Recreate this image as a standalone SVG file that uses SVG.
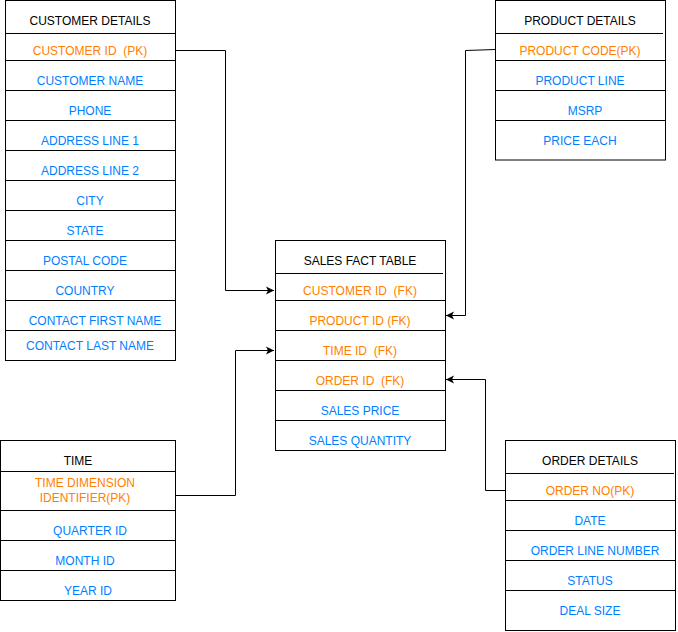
<svg xmlns="http://www.w3.org/2000/svg" width="678" height="632" viewBox="0 0 678 632">
<style>
.box{fill:#fff;stroke:#000;stroke-width:1}
.div{stroke:#000;stroke-width:1;fill:none}
text{font-family:"Liberation Sans",Arial,sans-serif;font-size:12px;text-anchor:middle}
.h{fill:#000}
.k{fill:#FF8000}
.f{fill:#007FFF}
.c{fill:none;stroke:#000;stroke-width:1}
</style>
<defs>
<marker id="arr" markerWidth="10" markerHeight="10" refX="9" refY="5" orient="auto" markerUnits="userSpaceOnUse">
<path d="M1,1 L9,5 L1,9 L3,5 Z" fill="#000"/>
</marker>
</defs>
<g id="connectors">
<path class="c" d="M175.5,50.5 H225.5 V290.5 H274" marker-end="url(#arr)"/>
<path class="c" d="M495.5,49.5 L465.5,50.5 V315.5 H446" marker-end="url(#arr)"/>
<path class="c" d="M175.5,495.5 H235.5 V350.5 H274" marker-end="url(#arr)"/>
<path class="c" d="M505.5,490.5 H485.5 V379.5 H446" marker-end="url(#arr)"/>
</g>
<g id="customer-details">
<rect class="box" x="5.5" y="0.5" width="170" height="360"/>
<path class="div" d="M5.5,33.5 H175.5 M5.5,60.5 H175.5 M5.5,90.5 H175.5 M5.5,120.5 H175.5 M5.5,150.5 H175.5 M5.5,180.5 H175.5 M5.5,210.5 H175.5 M5.5,240.5 H175.5 M5.5,270.5 H175.5 M5.5,300.5 H175.5 M5.5,330.5 H175.5"/>
<text class="h" x="90" y="24.5">CUSTOMER DETAILS</text>
<text class="k" x="90" y="54.5" xml:space="preserve">CUSTOMER ID  (PK)</text>
<text class="f" x="90" y="84.5">CUSTOMER NAME</text>
<text class="f" x="90" y="114.5">PHONE</text>
<text class="f" x="90" y="144.5">ADDRESS LINE 1</text>
<text class="f" x="90" y="174.5">ADDRESS LINE 2</text>
<text class="f" x="90" y="204.5">CITY</text>
<text class="f" x="85" y="234.5">STATE</text>
<text class="f" x="85" y="264.5">POSTAL CODE</text>
<text class="f" x="85" y="294.5">COUNTRY</text>
<text class="f" x="95" y="324.5">CONTACT FIRST NAME</text>
<text class="f" x="90" y="349.5">CONTACT LAST NAME</text>
</g>
<g id="product-details">
<rect class="box" x="495.5" y="0.5" width="170" height="159.5"/>
<path class="div" d="M495.5,33.5 H663 M495.5,60.5 H665.5 M495.5,90.5 H665.5 M495.5,120.5 H665.5"/>
<text class="h" x="580" y="24.5">PRODUCT DETAILS</text>
<text class="k" x="580" y="54.5">PRODUCT CODE(PK)</text>
<text class="f" x="580" y="84.5">PRODUCT LINE</text>
<text class="f" x="585" y="114.5">MSRP</text>
<text class="f" x="580" y="144.5">PRICE EACH</text>
</g>
<g id="sales-fact-table">
<rect class="box" x="275.5" y="240.5" width="170" height="210"/>
<path class="div" d="M275.5,273.5 H443 M275.5,300.5 H445.5 M275.5,330.5 H445.5 M275.5,360.5 H445.5 M275.5,390.5 H445.5 M275.5,420.5 H445.5"/>
<text class="h" x="360" y="264.5">SALES FACT TABLE</text>
<text class="k" x="360" y="294.5" xml:space="preserve">CUSTOMER ID  (FK)</text>
<text class="k" x="360" y="324.5">PRODUCT ID (FK)</text>
<text class="k" x="360" y="354.5" xml:space="preserve">TIME ID  (FK)</text>
<text class="k" x="360" y="384.5" xml:space="preserve">ORDER ID  (FK)</text>
<text class="f" x="360" y="414.5">SALES PRICE</text>
<text class="f" x="360" y="444.5">SALES QUANTITY</text>
</g>
<g id="time">
<rect class="box" x="0.5" y="440.5" width="175" height="160"/>
<path class="div" d="M0.5,471.5 H175.5 M0.5,510.5 H175.5 M0.5,540.5 H175.5 M0.5,570.5 H175.5"/>
<text class="h" x="78" y="464.5">TIME</text>
<text class="k" x="85" y="486.5">TIME DIMENSION</text>
<text class="k" x="85" y="502">IDENTIFIER(PK)</text>
<text class="f" x="90" y="534.5">QUARTER ID</text>
<text class="f" x="85" y="564.5">MONTH ID</text>
<text class="f" x="88" y="594.5">YEAR ID</text>
</g>
<g id="order-details">
<rect class="box" x="505.5" y="440.5" width="170" height="190"/>
<path class="div" d="M505.5,473.5 H674 M505.5,500.5 H675.5 M505.5,530.5 H675.5 M505.5,560.5 H675.5 M505.5,590.5 H675.5"/>
<text class="h" x="590" y="464.5">ORDER DETAILS</text>
<text class="k" x="590" y="494.5">ORDER NO(PK)</text>
<text class="f" x="590" y="524.5">DATE</text>
<text class="f" x="595" y="554.5">ORDER LINE NUMBER</text>
<text class="f" x="590" y="584.5">STATUS</text>
<text class="f" x="590" y="614.5">DEAL SIZE</text>
</g>
</svg>
